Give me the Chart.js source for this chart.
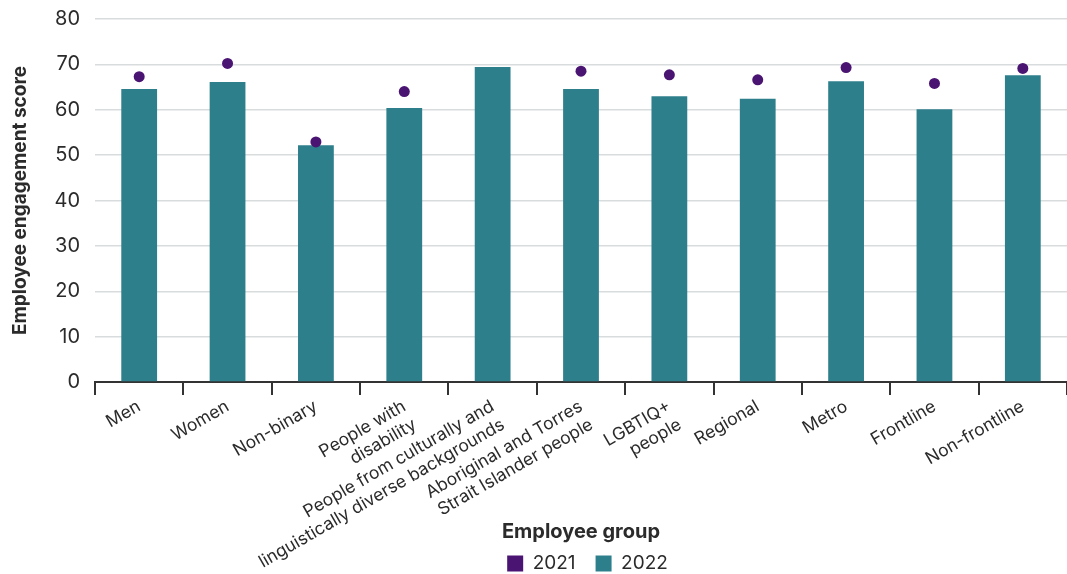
<!DOCTYPE html>
<html>
<head>
<meta charset="utf-8">
<script src="https://cdn.jsdelivr.net/npm/chart.js@4.4.1/dist/chart.umd.min.js"></script>
<style>
  html, body { margin: 0; padding: 0; background: #ffffff; overflow: hidden; }
  #wrap { width: 1067px; height: 574px; position: relative; }
  canvas { display: block; }
</style>
</head>
<body>
<div id="wrap"><canvas id="c"></canvas></div>
<script>
const categories = [
  'Men',
  'Women',
  'Non-binary',
  ['People with', 'disability'],
  ['People from culturally and', 'linguistically diverse backgrounds'],
  ['Aboriginal and Torres', 'Strait Islander people'],
  ['LGBTIQ+', 'people'],
  'Regional',
  'Metro',
  'Frontline',
  'Non-frontline'
];
const values2021 = [67.3, 70.2, 52.9, 64.0, null, 68.5, 67.7, 66.6, 69.3, 65.8, 69.1];
const values2022 = [64.6, 66.1, 52.2, 60.4, 69.4, 64.6, 63.0, 62.4, 66.3, 60.1, 67.6];
const yTicks = [0, 10, 20, 30, 40, 50, 60, 70, 80];

const FONT = 'Inter, "Liberation Sans", Arial, sans-serif';
const TEXT = '#2b2b2b';

const legendShift = {
  id: 'legendShift',
  afterLayout(chart) {
    const lg = chart.legend;
    if (!lg) return;
    const dx = 54, dy = 9;
    lg.left += dx; lg.right += dx;
    lg.top += dy; lg.bottom += dy;
  }
};

new Chart(document.getElementById('c'), {
  type: 'bar',
  plugins: [legendShift],
  data: {
    labels: categories,
    datasets: [
      {
        type: 'line',
        label: '2021',
        data: values2021,
        showLine: false,
        backgroundColor: '#4a1472',
        borderColor: '#4a1472',
        borderWidth: 0,
        pointRadius: 5.5,
        pointHoverRadius: 5.5,
        pointBackgroundColor: '#4a1472',
        pointBorderWidth: 0,
        clip: false,
        order: 0
      },
      {
        type: 'bar',
        label: '2022',
        data: values2022,
        backgroundColor: '#2e7f8c',
        borderWidth: 0,
        categoryPercentage: 1,
        barPercentage: 0.405,
        order: 1
      }
    ]
  },
  options: {
    responsive: true,
    maintainAspectRatio: false,
    animation: false,
    layout: { autoPadding: false, padding: { top: 19, right: 0, bottom: 0, left: 0 } },
    plugins: {
      tooltip: { enabled: false },
      legend: {
        position: 'bottom',
        labels: {
          font: { family: FONT, size: 19 },
          color: TEXT,
          boxWidth: 16,
          boxHeight: 16,
          padding: 20
        }
      }
    },
    scales: {
      x: {
        afterFit: (s) => {
          s.height = 143;
          s.paddingRight = 0;
          s.paddingLeft = 0;
          s._computeLabelArea = () => undefined;
        },
        border: { display: true, color: '#333333', width: 2 },
        grid: {
          offset: true,
          drawOnChartArea: false,
          drawTicks: true,
          tickLength: 13,
          color: '#333333',
          lineWidth: 2
        },
        ticks: {
          autoSkip: false,
          minRotation: 30,
          maxRotation: 30,
          padding: 1,
          color: TEXT,
          font: { family: FONT, size: 17.5 }
        },
        title: {
          display: true,
          text: 'Employee group',
          color: TEXT,
          font: { family: FONT, size: 20, weight: 'bold' },
          padding: { top: 0, bottom: -19 }
        }
      },
      y: {
        afterFit: (s) => {
          s.width = 95;
          s.paddingTop = 0;
          s.paddingBottom = 0;
        },
        min: 0,
        max: 80,
        afterBuildTicks: (s) => { s.ticks = yTicks.map(v => ({ value: v })); },
        border: { display: false },
        grid: { color: '#d9dcdd', lineWidth: 1.5, drawTicks: false },
        ticks: {
          padding: 15,
          color: TEXT,
          font: { family: FONT, size: 20 }
        },
        title: {
          display: true,
          text: 'Employee engagement score',
          color: TEXT,
          font: { family: FONT, size: 19, weight: 'bold' },
          padding: { top: 9, bottom: 0 }
        }
      }
    }
  }
});
</script>
</body>
</html>
